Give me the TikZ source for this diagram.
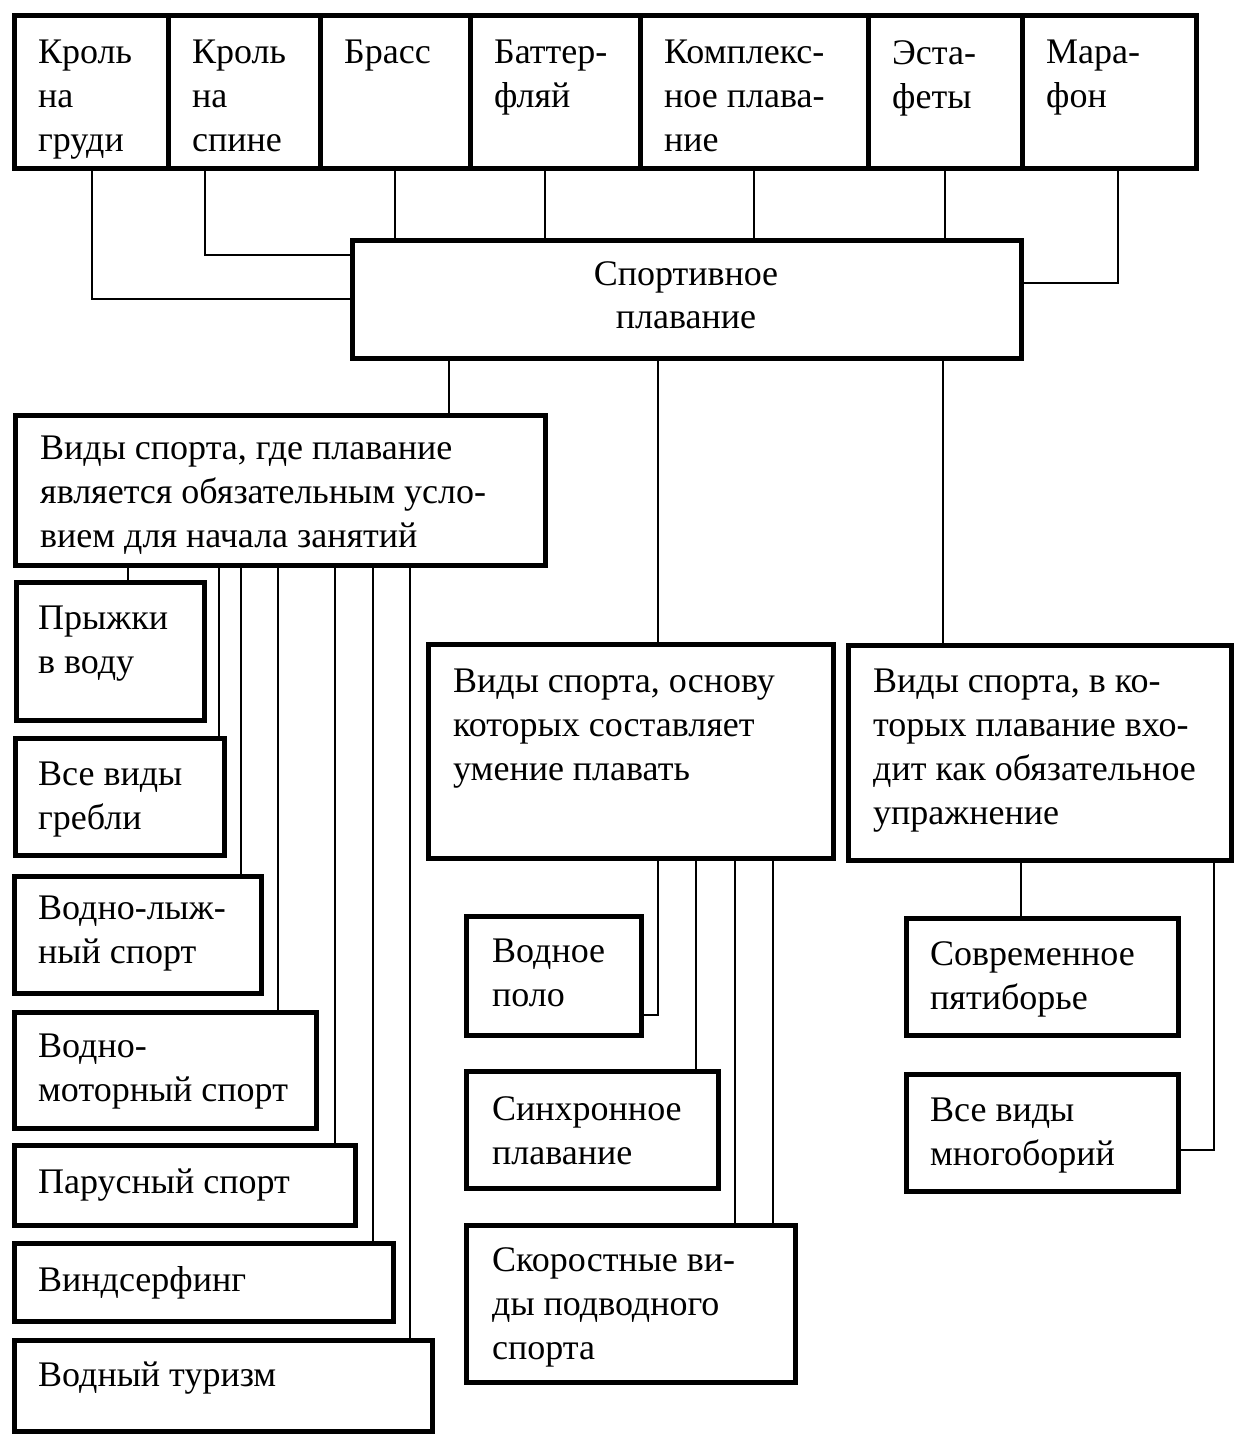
\documentclass[tikz,border=0pt]{standalone}
\usepackage{fontspec}
\setmainfont{Liberation Serif}
\usetikzlibrary{fit}
\begin{document}
\begin{tikzpicture}[x=1pt,y=-1pt,
  box/.style={draw=black, line width=5pt, inner sep=0pt, fill=white},
  txt/.style={anchor=north west, inner sep=0pt, align=left, font=\fontsize{36}{44}\selectfont},
  ctxt/.style={anchor=north, inner sep=0pt, align=center, font=\fontsize{36}{43}\selectfont},
  conn/.style={draw=black, line width=1.8pt}]
\useasboundingbox (0,0) rectangle (1234,1436);
\fill[white] (0,0) rectangle (1234,1436);

% top row
\node[box, fit={(14,15) (168,168)}] (b1) {};
\node[box, fit={(168,15) (320,168)}] (b2) {};
\node[box, fit={(320,15) (470,168)}] (b3) {};
\node[box, fit={(470,15) (640,168)}] (b4) {};
\node[box, fit={(640,15) (868,168)}] (b5) {};
\node[box, fit={(868,15) (1022,168)}] (b6) {};
\node[box, fit={(1022,15) (1196,168)}] (b7) {};
\node[txt] (b1t) at (38,40) {Кроль\\на\\груди};
\node[txt] (b2t) at (192,40) {Кроль\\на\\спине};
\node[txt] (b3t) at (344,40) {Брасс};
\node[txt] (b4t) at (494,40) {Баттер-\\фляй};
\node[txt] (b5t) at (664,40) {Комплекс-\\ное плава-\\ние};
\node[txt] (b6t) at (892,40) {Эста-\\феты};
\node[txt] (b7t) at (1046,40) {Мара-\\фон};

% central
\node[box, fit={(352,240) (1021,358)}] (C) {};
\node[ctxt] (Ct) at (686,261) {Спортивное\\плавание};

% three groups
\node[box, fit={(15,415) (545,565)}] (A) {};
\node[txt] (At) at (40,436) {Виды спорта, где плавание\\является обязательным усло-\\вием для начала занятий};
\node[box, fit={(428,644) (833,858)}] (B) {};
\node[txt] (Bt) at (453,669) {Виды спорта, основу\\которых составляет\\умение плавать};
\node[box, fit={(848,645) (1231,860)}] (D) {};
\node[txt] (Dt) at (873,669) {Виды спорта, в ко-\\торых плавание вхо-\\дит как обязательное\\упражнение};

% left column
\node[box, fit={(16,582) (204,720)}] (L1) {};
\node[txt] at (38,606) {Прыжки\\в воду};
\node[box, fit={(15,738) (224,855)}] (L2) {};
\node[txt] at (38,762) {Все виды\\гребли};
\node[box, fit={(14,876) (261,993)}] (L3) {};
\node[txt] at (38,896) {Водно-лыж-\\ный спорт};
\node[box, fit={(14,1012) (316,1128)}] (L4) {};
\node[txt] at (38,1034) {Водно-\\моторный спорт};
\node[box, fit={(14,1145) (355,1225)}] (L5) {};
\node[txt] at (38,1169) {Парусный спорт};
\node[box, fit={(14,1243) (393,1321)}] (L6) {};
\node[txt] at (38,1266) {Виндсерфинг};
\node[box, fit={(14,1340) (432,1431)}] (L7) {};
\node[txt] at (38,1362) {Водный туризм};

% middle column
\node[box, fit={(466,916) (641,1035)}] (M1) {};
\node[txt] at (492,939) {Водное\\поло};
\node[box, fit={(466,1071) (718,1188)}] (M2) {};
\node[txt] at (492,1096) {Синхронное\\плавание};
\node[box, fit={(466,1225) (795,1382)}] (M3) {};
\node[txt] at (492,1247) {Скоростные ви-\\ды подводного\\спорта};

% right column
\node[box, fit={(906,918) (1178,1035)}] (R1) {};
\node[txt] at (930,941) {Современное\\пятиборье};
\node[box, fit={(906,1074) (1178,1191)}] (R2) {};
\node[txt] at (930,1098) {Все виды\\многоборий};

% connectors top row -> central
\draw[conn] (b1.south -| 92,0) |- (C.west);
\draw[conn] (b2.south -| 205,0) |- (C.west |- 0,255);
\draw[conn] (b3.south -| 395,0) -- (C.north -| 395,0);
\draw[conn] (b4.south -| 545,0) -- (C.north -| 545,0);
\draw[conn] (b5.south -| 754,0) -- (C.north -| 754,0);
\draw[conn] (b6.south -| 945,0) -- (C.north -| 945,0);
\draw[conn] (b7.south -| 1118,0) |- (C.east |- 0,283);

% central -> groups
\draw[conn] (C.south -| 449,0) -- (A.north -| 449,0);
\draw[conn] (C.south -| 658,0) -- (B.north -| 658,0);
\draw[conn] (C.south -| 943,0) -- (D.north -| 943,0);

% A -> left column
\draw[conn] (A.south -| 128,0) -- (L1.north -| 128,0);
\draw[conn] (A.south -| 219,0) -- (L2.north -| 219,0);
\draw[conn] (A.south -| 241,0) -- (L3.north -| 241,0);
\draw[conn] (A.south -| 278,0) -- (L4.north -| 278,0);
\draw[conn] (A.south -| 335,0) -- (L5.north -| 335,0);
\draw[conn] (A.south -| 373,0) -- (L6.north -| 373,0);
\draw[conn] (A.south -| 410,0) -- (L7.north -| 410,0);

% B -> middle column
\draw[conn] (B.south -| 658,0) |- (M1.east |- 0,1015);
\draw[conn] (B.south -| 696,0) -- (M2.north -| 696,0);
\draw[conn] (B.south -| 735,0) -- (M3.north -| 735,0);
\draw[conn] (B.south -| 773,0) -- (M3.north -| 773,0);

% D -> right column
\draw[conn] (D.south -| 1021,0) -- (R1.north -| 1021,0);
\draw[conn] (D.south -| 1214,0) |- (R2.east |- 0,1150);
\end{tikzpicture}
\end{document}
